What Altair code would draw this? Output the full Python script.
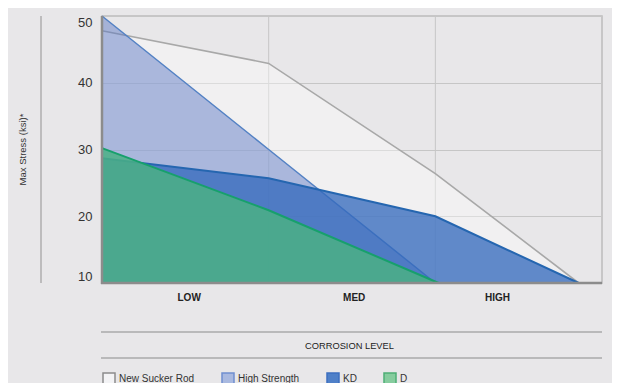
import altair as alt
import pandas as pd

# ---------------- data ----------------
series_names = ["New Sucker Rod", "High Strength", "KD", "D"]

nsr_x = [0, 1, 2, 2.86]
nsr_y = [47.8, 42.9, 26.4, 10]
hs_x = [0, 1, 2]
hs_y = [50, 30, 10]
kd_x = [0, 1, 2, 2.86]
kd_y = [28.7, 25.7, 20.0, 10]
d_x = [0, 1, 2.02]
d_y = [30.2, 20.9, 10]

x_label_pos = [0.52, 1.51, 2.37]
x_labels = ["LOW", "MED", "HIGH"]
y_ticks = [10, 20, 30, 40, 50]
grid_x = [1, 2]

# ---------------- styles ----------------
area_fill = ["#ffffff", "#5978c4", "#3469bc", "#4ab085"]
area_opacity = [0.38, 0.47, 0.77, 0.85]
line_color = ["#a8a8a8", "#5482c4", "#2566b0", "#17a06c"]
line_width = [1.6, 1.5, 2.0, 2.0]
legend_fill = ["#f3f3f5", "#a9b9e0", "#4f80c8", "#86cc9e"]
legend_stroke = ["#8c8c8c", "#6f8fd0", "#3d6fc0", "#4dae76"]

FONT = "Liberation Sans, Arial, sans-serif"
W, H = 500, 267

series_xy = [(nsr_x, nsr_y), (hs_x, hs_y), (kd_x, kd_y), (d_x, d_y)]

xscale = alt.Scale(domain=[0, 3], nice=False, zero=False)
yscale = alt.Scale(domain=[10, 50], nice=False, zero=False)

label_expr = " : ".join(
    [f"datum.value < {p + 0.01} ? '{l}'" for p, l in zip(x_label_pos[:-1], x_labels[:-1])]
    + [f"'{x_labels[-1]}'"]
)

x_axis = alt.Axis(
    values=x_label_pos, labelExpr=label_expr, grid=False, ticks=False, domain=False,
    labelFont=FONT, labelFontSize=10, labelFontWeight="bold", labelColor="#222",
    labelPadding=9, title="CORROSION LEVEL", titleFont=FONT, titleFontSize=9.3,
    titleFontWeight="normal", titleColor="#222", titleX=247, titleY=62,
    titleBaseline="middle", titleAlign="center",
)
y_axis = alt.Axis(
    values=y_ticks, grid=True, gridColor="#c6c6c6", gridWidth=1, ticks=False, domain=False,
    labelFont=FONT, labelFontSize=13, labelColor="#333", labelPadding=10, labelFlush=True,
    title="Max Stress (ksi)*", titleFont=FONT, titleFontSize=9.5, titleFontWeight="normal",
    titleColor="#333", titleAngle=270, titleX=-80, titleY=133, titleAlign="center",
    titleBaseline="middle",
)

X = alt.X("x:Q", scale=xscale, axis=x_axis)
Y = alt.Y("y:Q", scale=yscale, axis=y_axis)

layers = []

# vertical gridlines
grid_df = pd.DataFrame({"x": grid_x})
layers.append(
    alt.Chart(grid_df).mark_rule(color="#c6c6c6", strokeWidth=1).encode(
        x=X, y=alt.value(0), y2=alt.value(H)
    )
)

for i, (xs, ys) in enumerate(series_xy):
    df = pd.DataFrame({"x": xs, "y": ys, "series": series_names[i]})
    layers.append(
        alt.Chart(df).mark_area(
            color=area_fill[i], fillOpacity=area_opacity[i], interpolate="linear"
        ).encode(x=X, y=Y, y2=alt.datum(10))
    )
    layers.append(
        alt.Chart(df).mark_line(
            color=line_color[i], strokeWidth=line_width[i], interpolate="linear"
        ).encode(x=X, y=Y)
    )

one = alt.Data(values=[{"a": 1}])
# axis lines (left and bottom)
layers.append(alt.Chart(one).mark_rule(color="#8c8c8c", strokeWidth=2.5).encode(
    x=alt.value(0), y=alt.value(0), y2=alt.value(H + 1)))
layers.append(alt.Chart(one).mark_rule(color="#8c8c8c", strokeWidth=2.5).encode(
    x=alt.value(-1), x2=alt.value(W), y=alt.value(H)))
# separator lines below the chart
layers.append(alt.Chart(one).mark_rule(color="#aaaaaa", strokeWidth=1.5).encode(
    x=alt.value(-1), x2=alt.value(W), y=alt.value(316)))
layers.append(alt.Chart(one).mark_rule(color="#aaaaaa", strokeWidth=1.5).encode(
    x=alt.value(-1), x2=alt.value(W), y=alt.value(342)))
# vertical line left of the y title
layers.append(alt.Chart(one).mark_rule(color="#a0a0a0", strokeWidth=1.2).encode(
    x=alt.value(-61), y=alt.value(0), y2=alt.value(H)))

# legend (invisible marks, visible legend)
legend_df = pd.DataFrame({"series": series_names})
leg = alt.Legend(
    orient="none", legendX=0, legendY=356, direction="horizontal", title=None,
    symbolType="square", symbolSize=144, symbolStrokeWidth=1.5, symbolOpacity=1,
    labelFont=FONT, labelFontSize=10, labelColor="#333", columnPadding=24,
    labelOffset=3, padding=0,
)
layers.append(
    alt.Chart(legend_df).mark_square(opacity=0).encode(
        x=alt.value(0), y=alt.value(0),
        fill=alt.Fill("series:N", scale=alt.Scale(domain=series_names, range=legend_fill), legend=leg),
        stroke=alt.Stroke("series:N", scale=alt.Scale(domain=series_names, range=legend_stroke), legend=leg),
    )
)

chart = alt.layer(*layers).properties(
    width=W, height=H,
    autosize=alt.AutoSizeParams(type="none"),
    padding={"left": 94, "top": 8, "right": 10, "bottom": 100},
    background="#e8e7e9",
).configure_view(stroke="#bcbcbc", strokeWidth=1.5)

chart.save("out.html", embed_options={"renderer": "svg", "actions": False})
